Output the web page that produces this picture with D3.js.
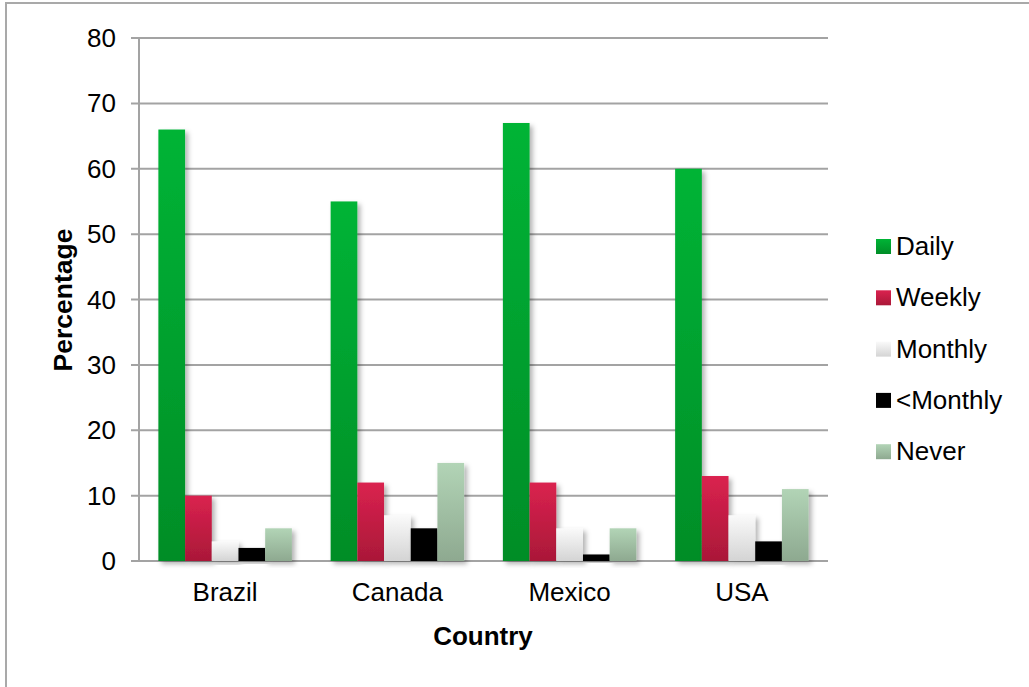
<!DOCTYPE html>
<html>
<head>
<meta charset="utf-8">
<script src="https://cdn.jsdelivr.net/npm/d3@7"></script>
<style>
  body { margin: 0; background: #fff; }
  text { font-family: "Liberation Sans", Arial, sans-serif; fill: #000; }
</style>
</head>
<body>
<script>
var width = 1029;
var height = 687;

// data
var countries = ["Brazil", "Canada", "Mexico", "USA"];
var series = ["Daily", "Weekly", "Monthly", "<Monthly", "Never"];
var daily = [66, 55, 67, 60];
var weekly = [10, 12, 12, 13];
var monthly = [3, 7, 5, 7];
var lessMonthly = [2, 5, 1, 3];
var never = [5, 15, 5, 11];
var yTicks = [0, 10, 20, 30, 40, 50, 60, 70, 80];

var values = [daily, weekly, monthly, lessMonthly, never];
// top / bottom colours of each bar gradient
var gradTop = ['#00b436', '#da224f', '#fafafa', '#000000', '#b2d4b6'];
var gradBot = ['#008d27', '#aa1838', '#d4d4d4', '#000000', '#8ea990'];

var svg = d3.select("body")
    .append("svg")
    .attr("width", width)
    .attr("height", height);

var defs = svg.append("defs");
series.forEach(function(s, i) {
    var lg = defs.append("linearGradient")
        .attr("id", "grad" + i)
        .attr("x1", 0).attr("y1", 0)
        .attr("x2", 0).attr("y2", 1);
    lg.append("stop").attr("offset", "0%").attr("stop-color", gradTop[i]);
    lg.append("stop").attr("offset", "100%").attr("stop-color", gradBot[i]);
});
var f = defs.append("filter").attr("id", "shadow")
    .attr("x", "-20%").attr("y", "-20%").attr("width", "160%").attr("height", "140%");
f.append("feDropShadow")
    .attr("dx", 3).attr("dy", 3)
    .attr("stdDeviation", 2.5)
    .attr("flood-color", "#000")
    .attr("flood-opacity", 0.3);

// outer frame (only left and top visible)
svg.append("path")
    .attr("d", "M6,690 L6,3 L1035,3")
    .attr("fill", "none")
    .attr("stroke", "#a9a9a9")
    .attr("stroke-width", 2);

var plotLeft = 139, plotRight = 828, plotTop = 38, plotBottom = 561;

var x = d3.scaleBand()
    .domain(countries)
    .range([plotLeft, plotRight])
    .paddingInner(0.225)
    .paddingOuter(0.1125);

var xs = d3.scaleBand()
    .domain(series)
    .range([0, x.bandwidth()])
    .padding(0);

var y = d3.scaleLinear()
    .domain([0, 80])
    .range([plotBottom, plotTop]);

// gridlines
svg.append("g")
    .selectAll("line")
    .data(yTicks)
    .enter()
    .append("line")
    .attr("x1", plotLeft - 8)
    .attr("x2", plotRight)
    .attr("y1", function(d) { return y(d); })
    .attr("y2", function(d) { return y(d); })
    .attr("stroke", "#a3a3a3")
    .attr("stroke-width", 2);

// y axis line
svg.append("line")
    .attr("x1", plotLeft).attr("x2", plotLeft)
    .attr("y1", plotTop).attr("y2", plotBottom)
    .attr("stroke", "#a3a3a3")
    .attr("stroke-width", 2);

// y labels
svg.append("g")
    .selectAll("text")
    .data(yTicks)
    .enter()
    .append("text")
    .attr("x", 116)
    .attr("y", function(d) { return y(d); })
    .attr("dy", "0.35em")
    .attr("text-anchor", "end")
    .attr("font-size", "26px")
    .text(function(d) { return d; });

// bars
var g = svg.selectAll("g.country")
    .data(countries)
    .enter()
    .append("g")
    .attr("class", "country")
    .attr("transform", function(d) {
        return "translate(" + x(d) + ",0)";
    });

g.selectAll("rect")
    .data(function(d, ci) {
        return series.map(function(s, si) {
            return { s: s, si: si, v: values[si][ci] };
        });
    })
    .enter()
    .append("rect")
    .attr("x", function(d) { return xs(d.s); })
    .attr("y", function(d) { return y(d.v); })
    .attr("width", xs.bandwidth())
    .attr("height", function(d) { return y(0) - y(d.v); })
    .attr("fill", function(d) { return "url(#grad" + d.si + ")"; })
    .attr("filter", "url(#shadow)");

// category labels
svg.append("g")
    .selectAll("text")
    .data(countries)
    .enter()
    .append("text")
    .attr("x", function(d) { return x(d) + x.bandwidth() / 2; })
    .attr("y", 601)
    .attr("text-anchor", "middle")
    .attr("font-size", "26px")
    .text(function(d) { return d; });

// axis titles
svg.append("text")
    .attr("x", 483)
    .attr("y", 645)
    .attr("text-anchor", "middle")
    .attr("font-size", "26px")
    .attr("font-weight", "bold")
    .text("Country");

svg.append("text")
    .attr("transform", "translate(72,300) rotate(-90)")
    .attr("text-anchor", "middle")
    .attr("font-size", "26.5px")
    .attr("font-weight", "bold")
    .text("Percentage");

// legend
var legend = svg.selectAll("g.legend")
    .data(series)
    .enter()
    .append("g")
    .attr("class", "legend")
    .attr("transform", function(d, i) {
        return "translate(876," + (246 + i * 51.3) + ")";
    });

legend.append("rect")
    .attr("x", 0)
    .attr("y", -7)
    .attr("width", 15)
    .attr("height", 15)
    .attr("fill", function(d, i) { return "url(#grad" + i + ")"; });

legend.append("text")
    .attr("x", 20)
    .attr("y", 0)
    .attr("dy", "0.35em")
    .attr("font-size", "26px")
    .text(function(d) { return d; });
</script>
</body>
</html>
